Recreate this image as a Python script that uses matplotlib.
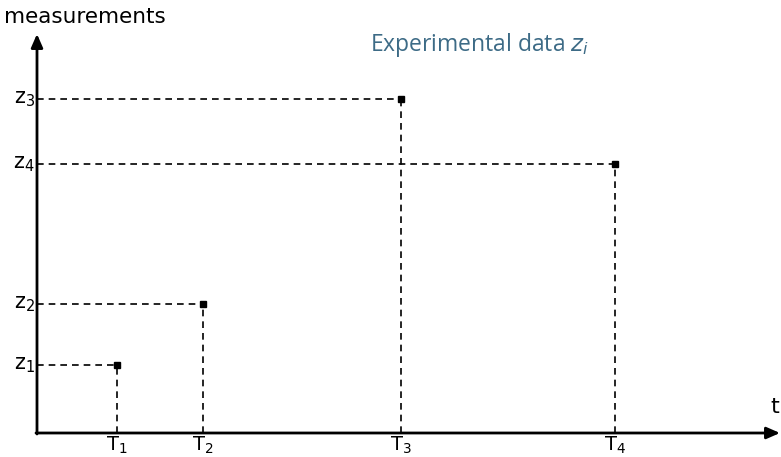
import matplotlib
matplotlib.use("Agg")
import matplotlib.pyplot as plt

# Data (arbitrary units: 1 unit = 100 px)
t_labels = ["T$_1$", "T$_2$", "T$_3$", "T$_4$"]
z_labels = ["z$_1$", "z$_2$", "z$_3$", "z$_4$"]
t_values = [0.80, 1.66, 3.64, 5.78]
z_values = [0.68, 1.29, 3.34, 2.69]

plt.rcParams['mathtext.fontset'] = 'dejavusans'

fig = plt.figure(figsize=(7.81, 4.57), dpi=100)
ax = fig.add_axes([0, 0, 1, 1])
ax.set_xlim(-0.37, 7.44)
ax.set_ylim(-0.24, 4.33)
ax.axis('off')

# axes arrows
ax.annotate('', xy=(7.43, 0), xytext=(-0.01, 0),
            arrowprops=dict(arrowstyle='-|>,head_length=0.8,head_width=0.35', color='black', lw=2,
                            shrinkA=0, shrinkB=0))
ax.annotate('', xy=(0, 3.99), xytext=(0, -0.01),
            arrowprops=dict(arrowstyle='-|>,head_length=0.8,head_width=0.35', color='black', lw=2,
                            shrinkA=0, shrinkB=0))

for t, z, tl, zl in zip(t_values, z_values, t_labels, z_labels):
    ax.plot([0, t], [z, z], ls=(0, (4, 3)), color='black', lw=1.2)
    ax.plot([t, t], [0, z], ls=(0, (4, 3)), color='black', lw=1.2)
    ax.plot([t], [z], marker='s', ms=4.5, color='black')
    ax.text(t, -0.02, tl, ha='center', va='top', fontsize=14)
    ax.text(-0.02, z, zl, ha='right', va='center', fontsize=15)

ax.text(-0.33, 4.16, "measurements", ha='left', va='center', fontsize=15.5)
ax.text(7.38, 0.26, "t", ha='center', va='center', fontsize=16)
ax.text(4.43, 3.88, "Experimental data $z_i$", ha='center', va='center',
        fontsize=16.5, color='#3d6b86', family='Open Sans')

fig.savefig("out.png", dpi=100)
